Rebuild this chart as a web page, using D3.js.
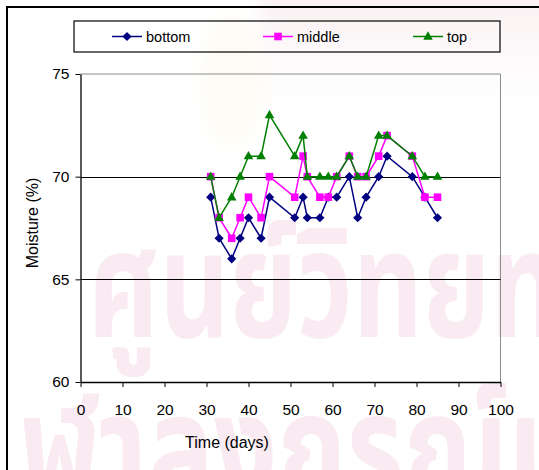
<!DOCTYPE html>
<html>
<head>
<meta charset="utf-8">
<script src="https://cdn.jsdelivr.net/npm/d3@7/dist/d3.min.js"></script>
<style>
  body { margin: 0; background: #fff; }
  svg { display: block; }
  .lbl { font-family: "Liberation Sans", Arial, sans-serif; fill: #000; }
</style>
</head>
<body>
<svg id="chart" width="539" height="470"></svg>
<script>
// Sampling days and moisture readings at the three depths
const days           = [31, 33, 36, 38, 40, 43, 45, 51, 53, 54, 57, 59, 61, 64, 66, 68, 71, 73, 79, 82, 85];
const bottomMoisture = [69, 67, 66, 67, 68, 67, 69, 68, 69, 68, 68, 69, 69, 70, 68, 69, 70, 71, 70, 69, 68];
const middleMoisture = [70, 68, 67, 68, 69, 68, 70, 69, 71, 70, 69, 69, 70, 71, 70, 70, 71, 72, 71, 69, 69];
const topMoisture    = [70, 68, 69, 70, 71, 71, 73, 71, 72, 70, 70, 70, 70, 71, 70, 70, 72, 72, 71, 70, 70];

const seriesNames = ["bottom", "middle", "top"];
const xTicks = [0, 10, 20, 30, 40, 50, 60, 70, 80, 90, 100];
const yTicks = [60, 65, 70, 75];
const gridValues = [65, 70];

const series = [
  { name: seriesNames[0], values: bottomMoisture, color: "#000080", shape: "diamond" },
  { name: seriesNames[1], values: middleMoisture, color: "#ff00ff", shape: "square" },
  { name: seriesNames[2], values: topMoisture,    color: "#008000", shape: "triangle" }
];

const svg = d3.select("#chart");
const W = 539, H = 470;

// ---- background watermark (library stamp) ----
const defs = svg.append("defs");
defs.append("filter").attr("id", "haze")
  .attr("x", "-50%").attr("y", "-50%").attr("width", "200%").attr("height", "200%")
  .append("feGaussianBlur").attr("stdDeviation", 8);
const wash = defs.append("linearGradient").attr("id", "wash").attr("x1", 0).attr("y1", 0).attr("x2", 0).attr("y2", 1);
wash.append("stop").attr("offset", "0%").attr("stop-color", "#f9eef0");
wash.append("stop").attr("offset", "100%").attr("stop-color", "#ffffff").attr("stop-opacity", 0);

const wm = svg.append("g").attr("class", "watermark").attr("pointer-events", "none");
wm.append("rect").attr("x", 260).attr("y", -10).attr("width", 320).attr("height", 150)
  .attr("fill", "url(#wash)").attr("filter", "url(#haze)");
wm.append("ellipse").attr("cx", 232).attr("cy", 80).attr("rx", 30).attr("ry", 65)
  .attr("fill", "#fdfbf3").attr("filter", "url(#haze)");

const thaiFont = "'Noto Sans Thai', 'Noto Sans Thai Looped', Loma, Garuda, 'Tlwg Typo', sans-serif";
const wmFill = "#f9ebf1";
wm.append("text")
  .attr("x", 88).attr("y", 337)
  .attr("textLength", 472).attr("lengthAdjust", "spacingAndGlyphs")
  .style("font-family", thaiFont).style("font-size", "150px").style("font-weight", "bold")
  .attr("fill", wmFill)
  .text("ศูนย์วิทยท");
wm.append("text")
  .attr("x", 20).attr("y", 500)
  .attr("textLength", 560).attr("lengthAdjust", "spacingAndGlyphs")
  .style("font-family", thaiFont).style("font-size", "150px").style("font-weight", "bold")
  .attr("fill", wmFill)
  .text("ฬาลงกรณ์ม");

// ---- outer chart frame ----
svg.append("rect").attr("x", 7).attr("y", 7).attr("width", W).attr("height", H)
  .attr("fill", "none").attr("stroke", "#000").attr("stroke-width", 2);

// ---- scales ----
const x = d3.scaleLinear().domain([0, 100]).range([80.5, 500.5]);
const y = d3.scaleLinear().domain([60, 75]).range([382, 74]);

// plot area border (top/right grey)
svg.append("path")
  .attr("d", `M${x(0)},${y(75)}H${x(100)}V${y(60)}`)
  .attr("fill", "none").attr("stroke", "#8c8c8c").attr("stroke-width", 1);

// horizontal gridlines
svg.append("g").selectAll("line").data(gridValues).join("line")
  .attr("x1", x(0)).attr("x2", x(100))
  .attr("y1", d => Math.round(y(d)) + 0.5).attr("y2", d => Math.round(y(d)) + 0.5)
  .attr("stroke", "#000").attr("stroke-width", 1);

// axes
const yAxis = svg.append("g").attr("transform", `translate(${x(0)},0)`)
  .call(d3.axisLeft(y).tickValues(yTicks).tickSize(5).tickPadding(6).tickSizeOuter(0));
const xAxis = svg.append("g").attr("transform", `translate(0,${y(60)})`)
  .call(d3.axisBottom(x).tickValues(xTicks).tickSize(5).tickPadding(17).tickSizeOuter(0));
[yAxis, xAxis].forEach(a => {
  a.select(".domain").attr("stroke", "#000").attr("stroke-width", 1.3);
  a.selectAll(".tick line").attr("stroke", "#000");
  a.selectAll("text").attr("class", "lbl").style("font-size", "15.5px").attr("fill", "#000");
});

// axis titles
svg.append("text").attr("class", "lbl")
  .attr("x", 227).attr("y", 448).attr("text-anchor", "middle")
  .style("font-size", "16px").text("Time (days)");
svg.append("text").attr("class", "lbl")
  .attr("transform", "translate(38,223) rotate(-90)").attr("text-anchor", "middle")
  .style("font-size", "16px").text("Moisture (%)");

// marker shapes
function markerPath(shape) {
  if (shape === "diamond") return "M0,-4.6L4.6,0L0,4.6L-4.6,0Z";
  if (shape === "square") return "M-3.8,-3.8H3.8V3.8H-3.8Z";
  return "M0,-5.2L4.8,3.2H-4.8Z";
}

// series lines and markers
const line = d3.line().x(d => x(d[0])).y(d => y(d[1]));
series.forEach(s => {
  const pts = days.map((d, i) => [d, s.values[i]]);
  const g = svg.append("g");
  g.append("path").datum(pts).attr("d", line)
    .attr("fill", "none").attr("stroke", s.color).attr("stroke-width", 1.5);
  g.selectAll("path.m").data(pts).join("path").attr("class", "m")
    .attr("d", markerPath(s.shape))
    .attr("transform", d => `translate(${x(d[0])},${y(d[1])})`)
    .attr("fill", s.color);
});

// legend
const legend = svg.append("g");
legend.append("rect").attr("x", 74).attr("y", 21).attr("width", 426).attr("height", 31)
  .attr("fill", "none").attr("stroke", "#000").attr("stroke-width", 1.2);
const legendX = [112, 263, 413];
series.forEach((s, i) => {
  const lx = legendX[i], ly = 36.5;
  legend.append("line").attr("x1", lx).attr("x2", lx + 30).attr("y1", ly).attr("y2", ly)
    .attr("stroke", s.color).attr("stroke-width", 1.5);
  legend.append("path").attr("d", markerPath(s.shape))
    .attr("transform", `translate(${lx + 15},${ly})`).attr("fill", s.color);
  legend.append("text").attr("class", "lbl").attr("x", lx + 34).attr("y", ly + 5)
    .style("font-size", "14.5px").text(s.name);
});
</script>
</body>
</html>
